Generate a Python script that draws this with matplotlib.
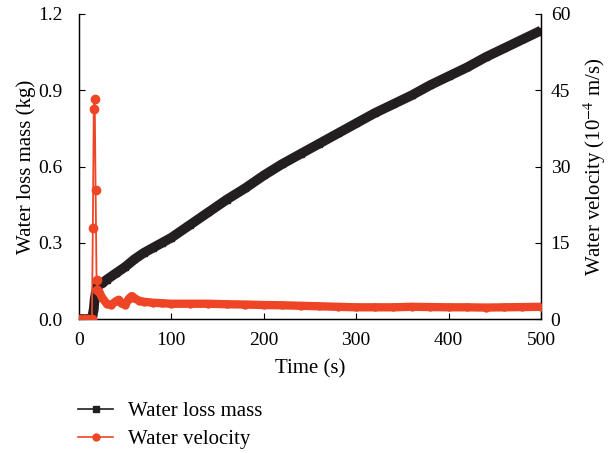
import numpy as np
import matplotlib.pyplot as plt
from matplotlib.lines import Line2D

plt.rcParams['font.family'] = ['Liberation Serif', 'DejaVu Serif']
plt.rcParams['mathtext.fontset'] = 'stix'

# Water loss mass (kg) vs time (s)
t_mass = [0, 5, 10, 14, 15, 16, 17, 18, 20, 25, 30, 40, 50, 60, 70, 80, 90, 100,
          120, 140, 160, 180, 200, 220, 240, 260, 280, 300, 320, 340, 360, 380,
          400, 420, 440, 460, 480, 500]
mass = [0, 0, 0, 0, 0.02, 0.04, 0.08, 0.10, 0.13, 0.14, 0.155, 0.18, 0.205, 0.235,
        0.26, 0.28, 0.30, 0.32, 0.37, 0.42, 0.47, 0.515, 0.565, 0.61, 0.65, 0.69,
        0.73, 0.77, 0.81, 0.845, 0.88, 0.92, 0.955, 0.99, 1.03, 1.065, 1.10, 1.135]

# Water velocity (1e-4 m/s) vs time (s)
t_vel = [0, 5, 10, 14, 15, 16, 17, 18, 19, 20, 22, 25, 30, 35, 40, 43, 46, 50,
         54, 57, 60, 65, 70, 80, 90, 100, 120, 140, 160, 180, 200, 220, 240, 260,
         280, 300, 320, 340, 360, 380, 400, 420, 440, 460, 480, 500]
vel = [0, 0, 0, 0, 18.0, 41.3, 43.2, 25.3, 7.7, 5.8, 5.3, 4.2, 3.0, 2.8, 3.5, 3.8,
       3.1, 2.8, 4.0, 4.5, 4.1, 3.6, 3.4, 3.2, 3.1, 3.0, 3.0, 3.0, 2.9, 2.85, 2.75,
       2.7, 2.6, 2.5, 2.4, 2.3, 2.3, 2.3, 2.4, 2.35, 2.3, 2.3, 2.25, 2.3, 2.35, 2.4]

black = '#231f20'
red = '#ee4526'

fig = plt.figure(figsize=(6.09, 4.53), dpi=100)
ax = fig.add_axes([0.1297, 0.2958, 0.7586, 0.6733])
ax2 = ax.twinx()

ax.plot(t_mass, mass, color=black, lw=7, marker='s', ms=5,
        solid_capstyle='butt', zorder=2)
ax2.plot(t_vel[:10], vel[:10], color=red, lw=1.3, marker='o', ms=6, zorder=3)
ax2.plot(t_vel[9:], vel[9:], color=red, lw=6, marker='o', ms=5,
         solid_capstyle='round', zorder=3)

ax.set_xlim(0, 500)
ax.set_ylim(0, 1.2)
ax2.set_ylim(0, 60)
ax.set_xticks([0, 100, 200, 300, 400, 500])
ax.set_yticks([0, 0.3, 0.6, 0.9, 1.2])
ax.set_yticklabels(['0.0', '0.3', '0.6', '0.9', '1.2'])
ax2.set_yticks([0, 15, 30, 45, 60])

for a in (ax, ax2):
    a.spines['top'].set_visible(False)
    a.tick_params(direction='in', labelsize=14, length=4, width=0.8)
    for s in a.spines.values():
        s.set_linewidth(0.9)
ax.tick_params(axis='x', pad=9)
ax.tick_params(axis='y', pad=12)
ax2.tick_params(axis='y', pad=7)

ax.set_xlabel('Time (s)', fontsize=15, labelpad=8)
ax.set_ylabel('Water loss mass (kg)', fontsize=15, labelpad=1)
ax2.set_ylabel('Water velocity (10$^{-4}$ m/s)', fontsize=15, labelpad=8)

ax2.set_zorder(ax.get_zorder() + 1)
ax2.patch.set_visible(False)

handles = [Line2D([], [], color=black, lw=1.2, marker='s', ms=4),
           Line2D([], [], color=red, lw=1.2, marker='o', ms=5)]
fig.legend(handles, ['Water loss mass', 'Water velocity'], loc='upper left',
           bbox_to_anchor=(0.128, 0.113), frameon=False, fontsize=15,
           borderaxespad=0, borderpad=0,
           handlelength=1.7, labelspacing=0.4, handletextpad=0.72)

fig.savefig('out.png', dpi=100)
